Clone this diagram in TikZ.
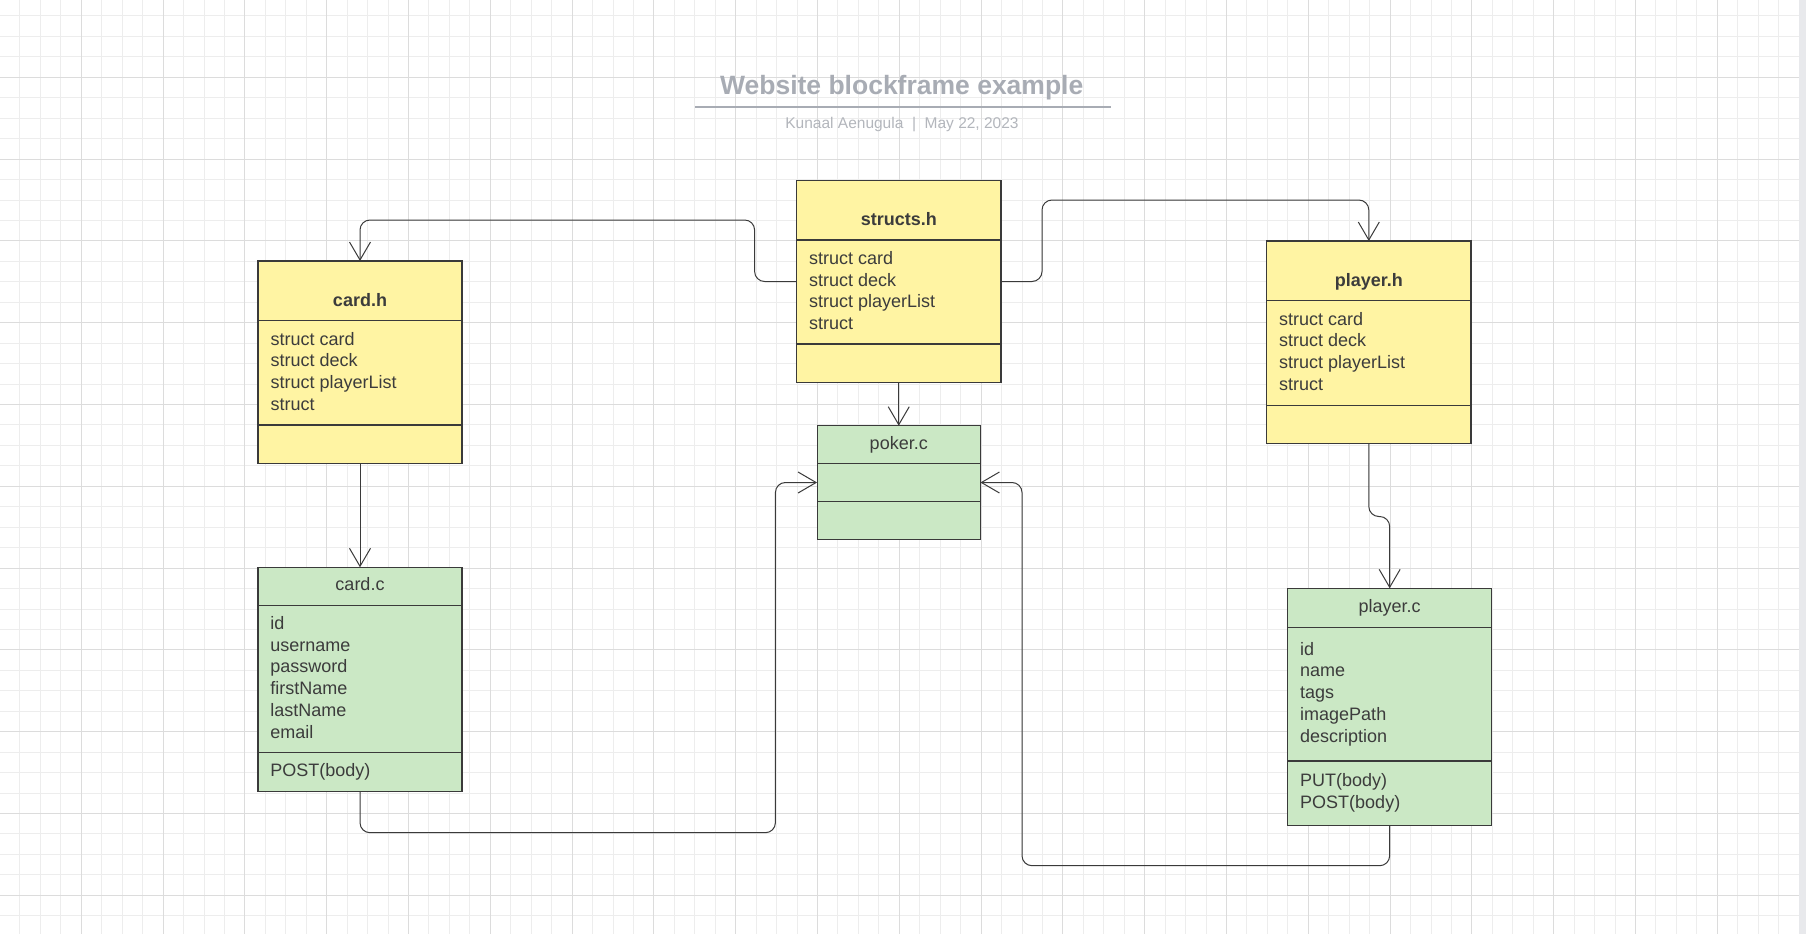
\documentclass[tikz,border=0pt]{standalone}
\usepackage{fontspec}
\setmainfont{Liberation Sans}
\usetikzlibrary{arrows.meta}
\definecolor{yfill}{HTML}{FFF4A3}
\definecolor{gfill}{HTML}{CBE8C5}
\definecolor{boxline}{HTML}{3A3A3A}
\definecolor{conncol}{HTML}{3A3A3A}
\definecolor{txt}{HTML}{3C3C3C}
\definecolor{titlegray}{HTML}{A8ACB4}
\definecolor{subgray}{HTML}{B3B6BC}
\definecolor{minorgrid}{HTML}{EDEDED}
\definecolor{majorgrid}{HTML}{DCDCDC}
\definecolor{stripcol}{HTML}{E8E9EC}
\begin{document}
\begin{tikzpicture}[x=1pt,y=-1pt,
  box/.style={draw=boxline, line width=1.05pt, inner sep=0pt, outer sep=0pt},
  ybox/.style={box, fill=yfill},
  gbox/.style={box, fill=gfill},
  hdr/.style={font=\fontsize{18}{22}\selectfont\bfseries, text=txt, inner sep=0pt, anchor=base},
  hdrn/.style={font=\fontsize{18}{22}\selectfont, text=txt, inner sep=0pt, anchor=base},
  item/.style={font=\fontsize{18}{22}\selectfont, text=txt, inner sep=0pt, anchor=base west},
  divline/.style={draw=boxline, line width=1.05pt},
  conn/.style={draw=conncol, line width=1pt, rounded corners=10pt,
    -{Straight Barb[length=18pt,width=21pt,line width=1pt]}},
  gridminor/.style={draw=minorgrid, line width=1pt},
  gridmajor/.style={draw=majorgrid, line width=1pt}
]
\useasboundingbox (0,0) rectangle (1806,934);
\fill[white] (0,0) rectangle (1806,934);
% grid
\foreach \i in {0,...,87} {\draw[gridminor] ({-0.5+\i*20.45},0) -- ({-0.5+\i*20.45},934);}
\foreach \k in {1,...,46} {\draw[gridminor] (0,{-4.5+\k*20.45}) -- (1799,{-4.5+\k*20.45});}
\foreach \i in {0,4,...,84} {\draw[gridmajor] ({-0.5+\i*20.45},0) -- ({-0.5+\i*20.45},934);}
\foreach \k in {4,8,...,44} {\draw[gridmajor] (0,{-4.5+\k*20.45}) -- (1799,{-4.5+\k*20.45});}
\fill[stripcol] (1799,0) rectangle (1806,934);

% title
\node[font=\fontsize{26.5}{30}\selectfont\bfseries, text=titlegray, inner sep=0pt, anchor=base] (title) at (901.7,94.3) {Website blockframe example};
\draw[titlegray, line width=2pt] (695,106.7) -- (1111,106.7);
\node[font=\fontsize{15.5}{18}\selectfont, text=subgray, inner sep=0pt, anchor=base] (subtitle) at (902,128.3) {Kunaal Aenugula\ \ |\ \ May 22, 2023};

% boxes
\node[ybox, minimum width=204pt, minimum height=202.3pt] (ch) at (360,362.15) {};
\node[ybox, minimum width=204.5pt, minimum height=202.4pt] (sh) at (898.75,281.5) {};
\node[ybox, minimum width=204.4pt, minimum height=202.3pt] (phh) at (1368.8,342.15) {};
\node[gbox, minimum width=163.4pt, minimum height=113.6pt] (pk) at (898.75,482.5) {};
\node[gbox, minimum width=204pt, minimum height=224pt] (cc) at (360,679.3) {};
\node[gbox, minimum width=204.3pt, minimum height=237pt] (pc) at (1389.65,706.8) {};

% dividers
\draw[divline] (ch.west |- 0,320.7) -- (ch.east |- 0,320.7);
\draw[divline] (ch.west |- 0,425) -- (ch.east |- 0,425);
\draw[divline] (sh.west |- 0,240) -- (sh.east |- 0,240);
\draw[divline] (sh.west |- 0,344) -- (sh.east |- 0,344);
\draw[divline] (phh.west |- 0,300.7) -- (phh.east |- 0,300.7);
\draw[divline] (phh.west |- 0,405.3) -- (phh.east |- 0,405.3);
\draw[divline] (pk.west |- 0,463.3) -- (pk.east |- 0,463.3);
\draw[divline] (pk.west |- 0,501.3) -- (pk.east |- 0,501.3);
\draw[divline] (cc.west |- 0,605.3) -- (cc.east |- 0,605.3);
\draw[divline] (cc.west |- 0,752.3) -- (cc.east |- 0,752.3);
\draw[divline] (pc.west |- 0,627.3) -- (pc.east |- 0,627.3);
\draw[divline] (pc.west |- 0,761) -- (pc.east |- 0,761);

% headers
\node[hdr] (ch-t) at (360,306.3) {card.h};
\node[hdr] (sh-t) at (898.75,225.7) {structs.h};
\node[hdr] (phh-t) at (1368.8,286.7) {player.h};
\node[hdrn] (pk-t) at (898.75,449.3) {poker.c};
\node[hdrn] (cc-t) at (360,590.7) {card.c};
\node[hdrn] (pc-t) at (1389.65,612.7) {player.c};

% items
\foreach \t [count=\i] in {struct card, struct deck, struct playerList, struct}
  \node[item] (ch-\i) at (270.5,{345+(\i-1)*21.8}) {\t};
\foreach \t [count=\i] in {struct card, struct deck, struct playerList, struct}
  \node[item] (sh-\i) at (809,{264.3+(\i-1)*21.8}) {\t};
\foreach \t [count=\i] in {struct card, struct deck, struct playerList, struct}
  \node[item] (phh-\i) at (1279,{325+(\i-1)*21.8}) {\t};
\foreach \t [count=\i] in {id, username, password, firstName, lastName, email}
  \node[item] (cc-\i) at (270.2,{629.3+(\i-1)*21.8}) {\t};
\node[item] (cc-m1) at (270.2,776.7) {POST(body)};
\foreach \t [count=\i] in {id, name, tags, imagePath, description}
  \node[item] (pc-\i) at (1300,{655+(\i-1)*21.8}) {\t};
\node[item] (pc-m1) at (1300,786.7) {PUT(body)};
\node[item] (pc-m2) at (1300,808.4) {POST(body)};

% connectors
\draw[conn] (sh.west) -| (754.6,220) -| (ch.north);
\draw[conn] (sh.east) -| (1042,200) -| (phh.north);
\draw[conn] (sh.south) -- (pk.north);
\draw[conn] (ch.south) -- (cc.north);
\draw[conn] (cc.south) |- (775.4,832.7) |- (pk.west);
\draw[conn] (pc.south) |- (1022,865.7) |- (pk.east);
\draw[conn] (phh.south) -- (1368.8,516.5) -- (1389.65,516.5) -- (pc.north);
\end{tikzpicture}
\end{document}
